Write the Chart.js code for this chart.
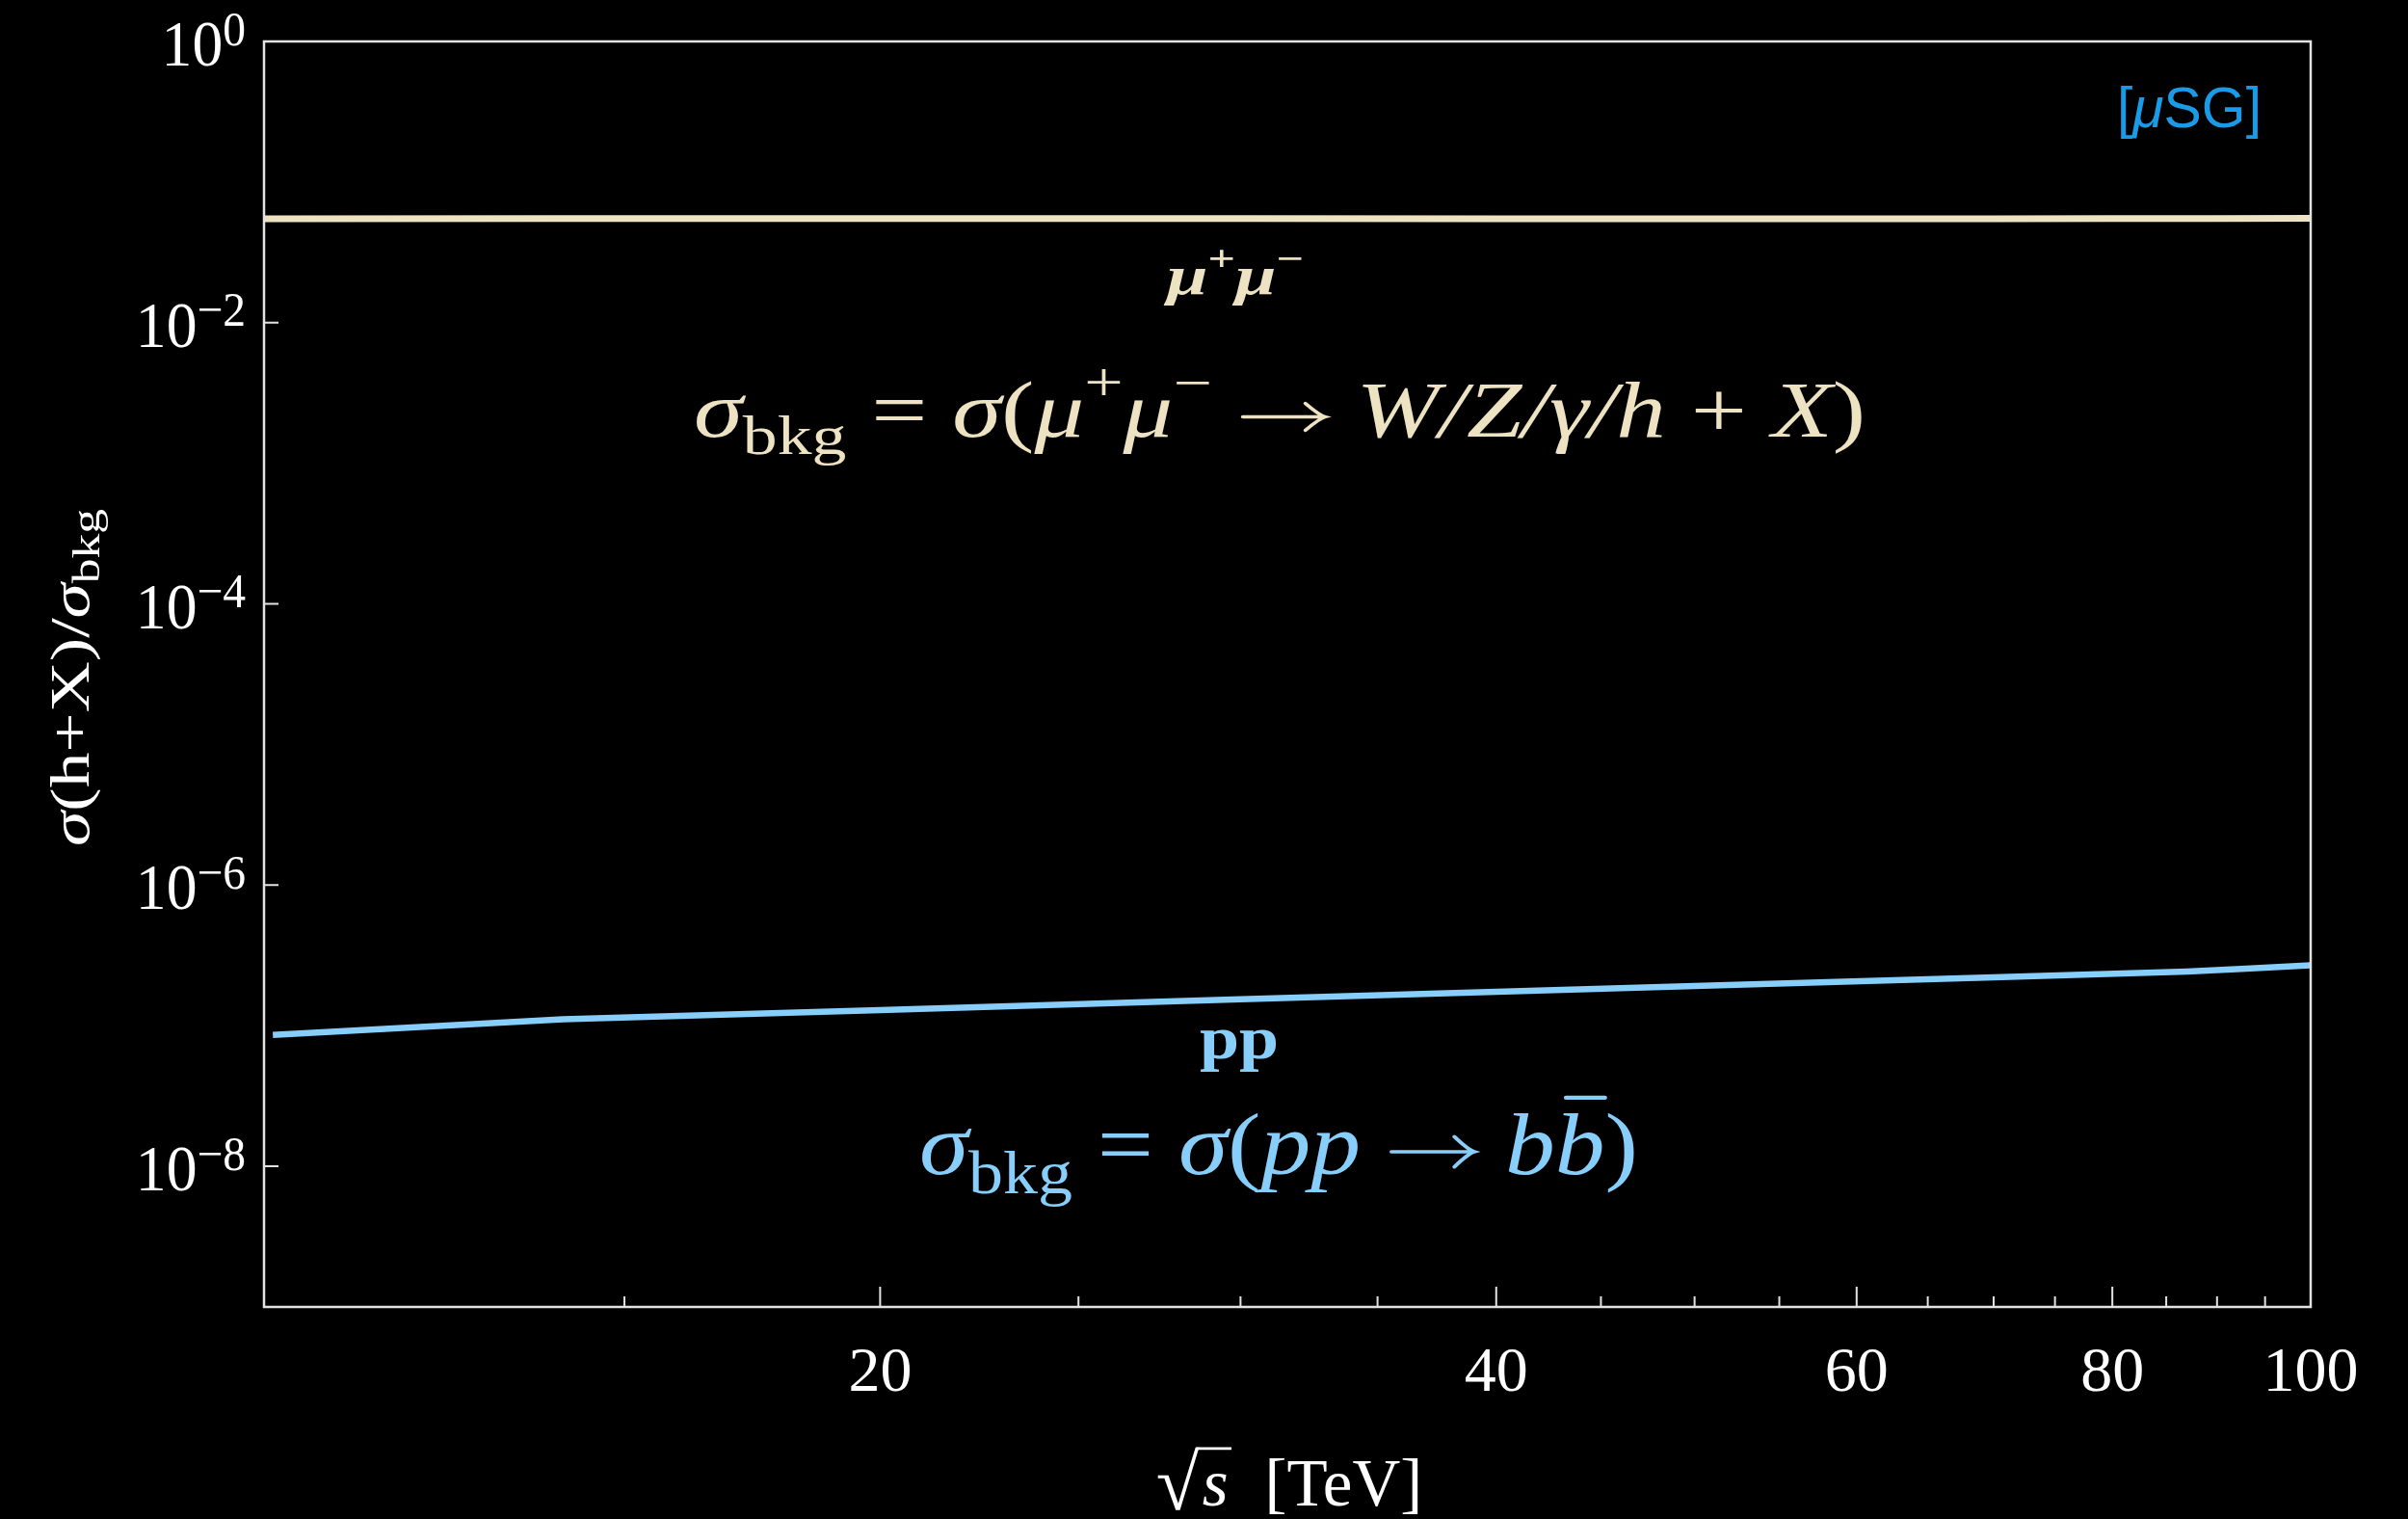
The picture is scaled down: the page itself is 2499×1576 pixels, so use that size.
<!DOCTYPE html>
<html>
<head>
<meta charset="utf-8">
<script src="https://cdn.jsdelivr.net/npm/chart.js@4.4.1/dist/chart.umd.min.js"></script>
<style>
  html, body { margin: 0; padding: 0; background: #000; }
  canvas { display: block; }
</style>
</head>
<body>
<canvas id="chart" width="2499" height="1576"></canvas>
<script>
// ---------------------------------------------------------------------
// data (sqrt(s) in TeV, ratio sigma(h+X)/sigma_bkg)
// ---------------------------------------------------------------------
const muEnergy = [10, 14, 20, 30, 40, 50, 60, 70, 80, 90, 100];
const muRatio  = [0.0548, 0.0550, 0.0550, 0.0550, 0.0549, 0.0547, 0.0547, 0.0548, 0.0550, 0.0551, 0.0552];

const ppEnergy = [10.1, 14, 20, 30, 50, 70, 87, 93, 100];
const ppRatio  = [8.6e-8, 1.11e-7, 1.29e-7, 1.54e-7, 1.92e-7, 2.21e-7, 2.43e-7, 2.55e-7, 2.69e-7];

const xMajorTicks = [20, 40, 60, 80, 100];
const xMinorTicks = [15, 25, 30, 35, 45, 50, 55, 65, 70, 75, 85, 90, 95];
const yExponents  = [0, -2, -4, -6, -8];

const SERIF = '"Liberation Serif", "DejaVu Serif", serif';
const SANS = '"Liberation Sans", Arial, sans-serif';
const CREAM = '#ede2c1';
const SKY = '#87cefa';
const BADGE = '#1a9be8';
const AXIS = '#e2e2e2';

// draw a list of text runs (sub/superscripts, italics) on one baseline
// run: { t, it, bold, size (x base), dy (em of base), bar, arrow (em width) }
function drawRich(ctx, runs, x, y, o) {
  const base = o.size;
  const fontOf = r => `${r.it ? 'italic ' : ''}${r.bold || o.bold ? 'bold ' : ''}${Math.round(base * (r.size || 1))}px ${r.family || o.family || SERIF}`;
  ctx.save();
  let total = 0;
  const widths = runs.map(r => {
    if (r.arrow) { total += r.arrow * base; return r.arrow * base; }
    ctx.font = fontOf(r); const w = ctx.measureText(r.t).width; total += w; return w;
  });
  const sx = o.width ? o.width / total : (o.sx || 1);
  ctx.translate(x, y);
  if (o.rotate) ctx.rotate(o.rotate);
  ctx.scale(sx, 1);
  let cx = o.align === 'center' ? -total / 2 : o.align === 'right' ? -total : 0;
  ctx.fillStyle = o.color;
  ctx.strokeStyle = o.color;
  ctx.textAlign = 'left';
  ctx.textBaseline = 'alphabetic';
  runs.forEach((r, i) => {
    const dy = (r.dy || 0) * base;
    if (r.arrow) {
      // long thin arrow on the math axis
      const w = widths[i], ay = -0.25 * base, x0 = cx + 0.06 * base, x1 = cx + w - 0.06 * base;
      ctx.lineWidth = base * 0.04;
      ctx.lineCap = 'round';
      ctx.beginPath();
      ctx.moveTo(x0, ay);
      ctx.lineTo(x1, ay);
      ctx.moveTo(x1 - 0.2 * base, ay - 0.17 * base);
      ctx.quadraticCurveTo(x1 - 0.06 * base, ay - 0.02 * base, x1, ay);
      ctx.quadraticCurveTo(x1 - 0.06 * base, ay + 0.02 * base, x1 - 0.2 * base, ay + 0.17 * base);
      ctx.stroke();
    } else {
      ctx.font = fontOf(r);
      ctx.fillText(r.t, cx, dy);
    }
    if (r.bar) {
      ctx.lineWidth = base * 0.045;
      ctx.beginPath();
      ctx.moveTo(cx + widths[i] * 0.22, dy - base * 0.86);
      ctx.lineTo(cx + widths[i] * 1.0, dy - base * 0.86);
      ctx.stroke();
    }
    cx += widths[i];
  });
  ctx.restore();
}

function drawSqrtTitle(ctx, x, y, size, color) {
  ctx.save();
  ctx.fillStyle = color;
  ctx.strokeStyle = color;
  ctx.textBaseline = 'alphabetic';
  ctx.textAlign = 'left';
  const radSize = size * 1.18;
  ctx.font = `${radSize}px ${SERIF}`;
  const rad = ctx.measureText('√');
  const top = rad.actualBoundingBoxAscent;
  ctx.font = `italic ${size}px ${SERIF}`;
  const sW = ctx.measureText('s').width;
  ctx.font = `${size}px ${SERIF}`;
  const restW = ctx.measureText('  [TeV]').width;
  let cx = x - (rad.width + sW * 1.25 + restW) / 2;
  ctx.font = `${radSize}px ${SERIF}`;
  ctx.fillText('√', cx, y + size * 0.06);
  cx += rad.width;
  ctx.lineWidth = size * 0.04;
  ctx.beginPath();
  ctx.moveTo(cx - 3, y + size * 0.06 - top + size * 0.025);
  ctx.lineTo(cx + sW * 1.25, y + size * 0.06 - top + size * 0.025);
  ctx.stroke();
  ctx.font = `italic ${size}px ${SERIF}`;
  ctx.fillText('s', cx + sW * 0.12, y);
  cx += sW * 1.25;
  ctx.font = `${size}px ${SERIF}`;
  ctx.fillText('  [TeV]', cx, y);
  ctx.restore();
}

const frameAndText = {
  id: 'frameAndText',
  afterDatasetsDraw(chart) {
    const { ctx, chartArea: a, scales: { x, y } } = chart;
    ctx.save();
    // frame
    ctx.strokeStyle = AXIS;
    ctx.lineWidth = 2.5;
    ctx.strokeRect(a.left, a.top, a.right - a.left, a.bottom - a.top);
    // inward ticks
    ctx.lineWidth = 2;
    ctx.beginPath();
    xMajorTicks.forEach(v => { const px = x.getPixelForValue(v); ctx.moveTo(px, a.bottom); ctx.lineTo(px, a.bottom - 21); });
    xMinorTicks.forEach(v => { const px = x.getPixelForValue(v); ctx.moveTo(px, a.bottom); ctx.lineTo(px, a.bottom - 11); });
    yExponents.forEach(e => { const py = y.getPixelForValue(Math.pow(10, e)); ctx.moveTo(a.left, py); ctx.lineTo(a.left + 15, py); });
    ctx.stroke();
    ctx.restore();

    // tick labels
    xMajorTicks.forEach(v => {
      drawRich(ctx, [{ t: String(v) }], x.getPixelForValue(v), a.bottom + 87, { size: 66, align: 'center', color: '#fff' });
    });
    yExponents.forEach(e => {
      const py = y.getPixelForValue(Math.pow(10, e));
      const exp = e === 0 ? '0' : '−' + (-e);
      drawRich(ctx, [{ t: '10' }, { t: exp, size: 0.74, dy: -0.32 }], a.left - 19, py + 25, { size: 67, align: 'right', sx: 0.95, color: '#fff' });
    });

    // axis titles
    drawRich(ctx, [
      { t: 'σ', it: 1 }, { t: '(h+X)/' }, { t: 'σ', it: 1 }, { t: 'bkg', size: 0.7, dy: 0.2 },
    ], 92, 703, { size: 57, align: 'center', width: 350, rotate: -Math.PI / 2, color: '#fff' });
    drawSqrtTitle(ctx, 1338, 1562, 69, '#fff');

    // annotations
    drawRich(ctx, [
      { t: 'μ', it: 1 }, { t: '+', size: 0.66, dy: -0.42 }, { t: 'μ', it: 1 }, { t: '−', size: 0.66, dy: -0.42 },
    ], 1282, 305, { size: 58, bold: true, align: 'center', width: 142, color: CREAM });
    drawRich(ctx, [
      { t: 'σ', it: 1 }, { t: 'bkg', size: 0.7, dy: 0.22 }, { t: ' = ' }, { t: 'σ', it: 1 }, { t: '(' },
      { t: 'μ', it: 1 }, { t: '+', size: 0.7, dy: -0.45 }, { t: 'μ', it: 1 }, { t: '−', size: 0.7, dy: -0.45 },
      { t: ' ' }, { arrow: 0.95 }, { t: ' ' },
      { t: 'W/Z/γ/h', it: 1 }, { t: ' + ' }, { t: 'X', it: 1 }, { t: ')' },
    ], 720, 453, { size: 82, width: 1216, color: CREAM });
    drawRich(ctx, [{ t: 'pp' }], 1286, 1098, { size: 64, bold: true, align: 'center', width: 82, color: SKY });
    drawRich(ctx, [
      { t: 'σ', it: 1 }, { t: 'bkg', size: 0.7, dy: 0.22 }, { t: ' = ' }, { t: 'σ', it: 1 }, { t: '(' },
      { t: 'pp', it: 1 }, { t: ' ' }, { arrow: 0.95 }, { t: ' ' },
      { t: 'b', it: 1 }, { t: 'b', it: 1, bar: true }, { t: ')' },
    ], 954, 1218, { size: 92, width: 746, color: SKY });
    drawRich(ctx, [{ t: '[' }, { t: 'μ', it: 1 }, { t: 'SG]' }], 2347, 132,
      { size: 60, family: SANS, align: 'right', width: 150, color: BADGE });
  },
};

new Chart(document.getElementById('chart'), {
  type: 'line',
  data: {
    datasets: [
      {
        label: 'μ+μ−',
        data: muEnergy.map((e, i) => ({ x: e, y: muRatio[i] })),
        borderColor: CREAM,
        borderWidth: 7,
      },
      {
        label: 'pp',
        data: ppEnergy.map((e, i) => ({ x: e, y: ppRatio[i] })),
        borderColor: SKY,
        borderWidth: 6.5,
      },
    ],
  },
  options: {
    responsive: false,
    animation: false,
    devicePixelRatio: 1,
    layout: { padding: { left: 274, top: 43, right: 101, bottom: 220 } },
    elements: { point: { radius: 0 }, line: { tension: 0, borderCapStyle: 'butt' } },
    plugins: { legend: { display: false }, tooltip: { enabled: false } },
    scales: {
      x: { type: 'logarithmic', min: 10, max: 100, display: false },
      y: { type: 'logarithmic', min: 1e-9, max: 1, display: false },
    },
  },
  plugins: [frameAndText],
});
</script>
</body>
</html>
